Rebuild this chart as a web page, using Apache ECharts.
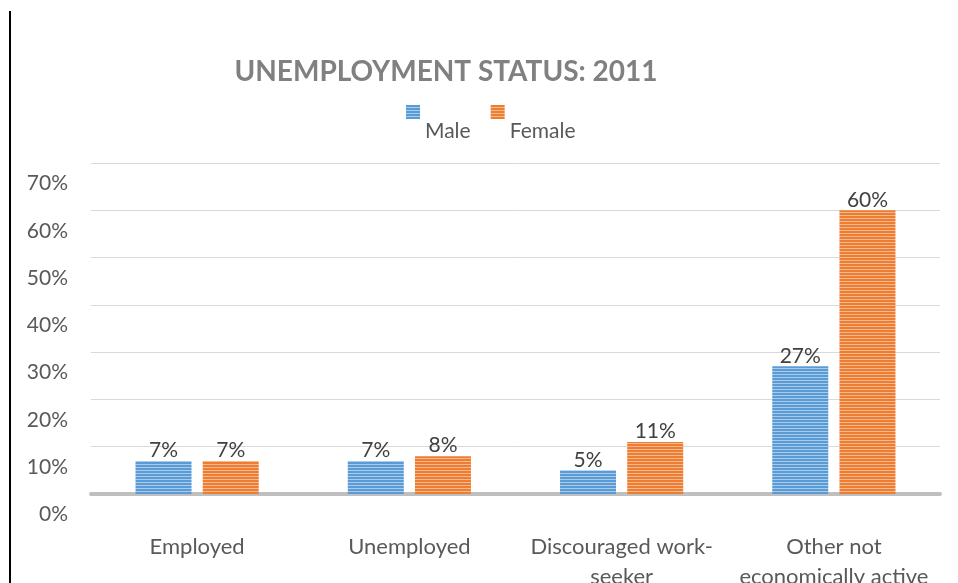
<!DOCTYPE html>
<html>
<head>
<meta charset="utf-8">
<script src="https://cdn.jsdelivr.net/npm/echarts@6/dist/echarts.min.js"></script>
<style>
  html, body { margin: 0; padding: 0; background: #fff; }
  #chart { width: 958px; height: 583px; }
</style>
</head>
<body>
<div id="chart"></div>
<script>
// Unemployment status by sex, 2011 (percent)
const categories = ['Employed', 'Unemployed', 'Discouraged work-\nseeker', 'Other not\neconomically active'];
const maleValues = [7, 7, 5, 27];
const femaleValues = [7, 8, 11, 60];
const yTicks = [0, 10, 20, 30, 40, 50, 60, 70];

// Horizontal striped fill used for the bars and legend swatches
function stripes(base, light) {
  const c = document.createElement('canvas');
  c.width = 4; c.height = 3;
  const ctx = c.getContext('2d');
  ctx.fillStyle = base;
  ctx.fillRect(0, 0, 4, 3);
  ctx.fillStyle = light;
  ctx.fillRect(0, 2, 4, 1);
  return { image: c, repeat: 'repeat' };
}
const maleFill = stripes('#5b9bd5', '#a9cbec');
const femaleFill = stripes('#ed7d31', '#f6b88e');

const font = 'Lato, "Open Sans", sans-serif';
const chart = echarts.init(document.getElementById('chart'));

const labelStyle = {
  show: true,
  position: 'top',
  distance: 0,
  formatter: p => p.value + '%',
  color: '#404040',
  fontSize: 21,
  fontFamily: font
};

chart.setOption({
  animation: false,
  title: {
    text: 'UNEMPLOYMENT STATUS: 2011',
    left: 441,
    top: 53,
    textAlign: 'center',
    textStyle: { color: '#808080', fontSize: 28, fontWeight: 'bold', fontFamily: font }
  },
  legend: {
    left: 401,
    top: 100,
    icon: 'rect',
    itemWidth: 14,
    itemHeight: 14,
    itemGap: 20,
    formatter: name => '{t|' + name + '}',
    textStyle: {
      color: '#595959', fontSize: 21, fontFamily: font,
      rich: { t: { color: '#595959', fontSize: 21, fontFamily: font, padding: [38, 0, 0, 0] } }
    },
    data: [
      { name: 'Male', itemStyle: { color: maleFill } },
      { name: 'Female', itemStyle: { color: femaleFill } }
    ]
  },
  grid: { left: 91, right: 18, top: 163, bottom: 89, outerBoundsMode: 'none', containLabel: false },
  xAxis: {
    type: 'category',
    data: categories,
    axisLine: { lineStyle: { color: '#bfbfbf', width: 4 } },
    axisTick: { show: false },
    axisLabel: {
      margin: 38,
      color: '#595959',
      fontSize: 22,
      lineHeight: 30,
      fontFamily: font,
      interval: 0
    }
  },
  yAxis: {
    type: 'value',
    min: yTicks[0],
    max: yTicks[yTicks.length - 1],
    interval: 10,
    axisLine: { show: false },
    axisTick: { show: false },
    splitLine: { lineStyle: { color: '#d9d9d9', width: 1 } },
    axisLabel: {
      margin: 23,
      color: '#595959',
      fontSize: 21,
      fontFamily: font,
      verticalAlign: 'top',
      padding: [10, 0, 0, 0],
      formatter: '{value}%'
    }
  },
  series: [
    {
      name: 'Male',
      type: 'bar',
      data: maleValues,
      barWidth: 56,
      barGap: '20%',
      itemStyle: { color: maleFill },
      label: labelStyle
    },
    {
      name: 'Female',
      type: 'bar',
      data: femaleValues,
      barWidth: 56,
      itemStyle: { color: femaleFill },
      label: labelStyle
    }
  ],
  graphic: [
    {
      type: 'line',
      shape: { x1: 10, y1: 11, x2: 10, y2: 583 },
      style: { stroke: '#000', lineWidth: 2 }
    }
  ]
});
</script>
</body>
</html>
